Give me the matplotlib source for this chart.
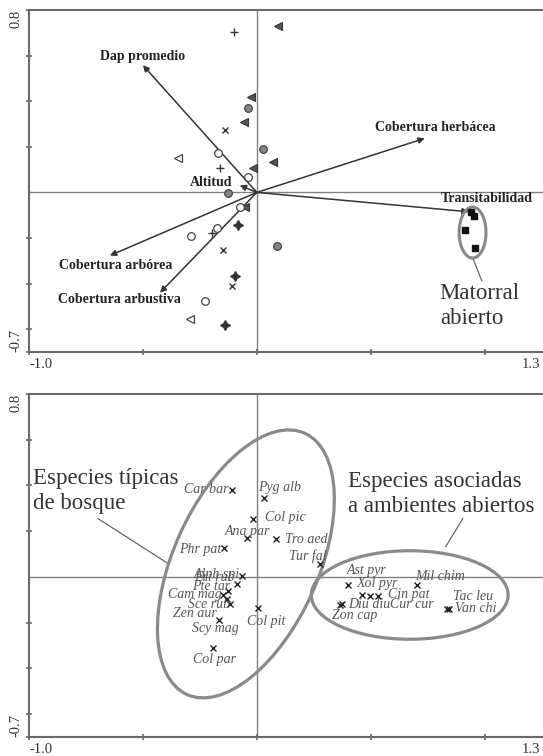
import numpy as np
import matplotlib
matplotlib.use("Agg")
import matplotlib.pyplot as plt
import matplotlib.transforms as mtransforms
from matplotlib.patches import Ellipse

''' Biplot CCA: variables do hábitat e especies '''

# --- DATOS: panel superior (variables ambientais e sitios) ---
var_nomes = ["Dap promedio", "Cobertura herbácea", "Transitabilidad", "Altitud",
             "Cobertura arbórea", "Cobertura arbustiva"]
var_x = [-0.50, 0.737, 0.93, -0.075, -0.645, -0.425]
var_y = [0.558, 0.237, -0.085, 0.031, -0.277, -0.44]

mais_x = [-0.101, -0.162, -0.197]
mais_y = [0.703, 0.105, -0.180]
trif_x = [0.092, -0.026, -0.057, 0.070, -0.018, -0.053]
trif_y = [0.730, 0.418, 0.308, 0.132, 0.105, -0.062]
circg_x = [-0.039, 0.026, -0.127, 0.088]
circg_y = [0.369, 0.189, -0.004, -0.237]
circa_x = [-0.171, -0.039, -0.075, -0.175, -0.289, -0.228]
circa_y = [0.171, 0.066, -0.066, -0.154, -0.193, -0.475]
cruz_x = [-0.140, -0.149, -0.110]
cruz_y = [0.273, -0.251, -0.409]
estr_x = [-0.083, -0.096, -0.140]
estr_y = [-0.141, -0.365, -0.580]
tria_x = [-0.346, -0.294]
tria_y = [0.149, -0.554]
cad_x = [0.939, 0.952, 0.912, 0.956]
cad_y = [-0.088, -0.105, -0.163, -0.242]

# --- DATOS: panel inferior (especies) ---
esp_nomes = ["Car bar", "Pyg alb", "Col pic", "Ana par", "Tro aed", "Tur fal",
             "Phr pat", "Alph spi", "Eri rub", "Pte tar", "Cam mag", "Sce rub",
             "Zen aur", "Scy mag", "Col par", "Col pit",
             "Ast pyr", "Xol pyr", "Cur cur", "Cin pat", "Diu diu", "Zon cap",
             "Mil chim", "Tac leu", "Van chi"]
esp_x = [-0.110, 0.031, -0.018, -0.044, 0.083, 0.276,
         -0.145, -0.066, -0.088, -0.127, -0.149, -0.132,
         -0.118, -0.167, -0.193, 0.004,
         0.399, 0.461, 0.496, 0.531, 0.373, 0.364,
         0.702, 0.833, 0.842]
esp_y = [0.382, 0.347, 0.255, 0.171, 0.167, 0.057,
         0.127, 0.004, -0.031, -0.062, -0.079, -0.097,
         -0.119, -0.189, -0.312, -0.136,
         -0.035, -0.079, -0.084, -0.084, -0.119, -0.123,
         -0.035, -0.141, -0.141]

# desprazamento das etiquetas (pixels) e aliñamento
esp_off = [(-3, 0, "right"), (-6, 10, "left"), (12, 1, "left"), (1, 6, "center"),
           (9, -1, "left"), (7, 8, "right"), (-2, -2, "right"), (-2, 2, "right"),
           (-2, 7, "right"), (2, 5, "right"), (-1, 0, "right"), (3, -5, "right"),
           (-13, -9, "right"), (-3, -8, "center"), (2, -11, "center"), (-11, -13, "left"),
           (-1, 14, "left"), (-5, 11, "left"), (20, -8, "left"), (10, 2, "left"),
           (6, 0, "left"), (-8, -10, "left"), (-2, 8, "left"), (6, 13, "left"),
           (6, 1, "left")]
var_lab_pos = [(-0.50, 0.598), (0.785, 0.286), (1.009, -0.026), (-0.202, 0.044),
               (-0.618, -0.321), (-0.601, -0.470)]

SERIF = ["Liberation Serif", "DejaVu Serif"]
plt.rcParams['font.family'] = SERIF
GRIS = "#6a6a6a"

fig = plt.figure(figsize=(5.43, 7.56), dpi=100)
ax1 = fig.add_axes([29 / 543, 404 / 756, 524 / 543, 342 / 756])
ax2 = fig.add_axes([29 / 543, 19 / 756, 524 / 543, 343 / 756])


def estilo_eixo(ax):
    ax.set_xlim(-1.0, 1.3)
    ax.set_ylim(-0.7, 0.8)
    for s in ax.spines.values():
        s.set_color(GRIS)
        s.set_linewidth(1.5)
    ax.axhline(0, color="#808080", lw=1.0, zorder=1)
    ax.axvline(0, color="#808080", lw=1.0, zorder=1)
    ax.set_xticks([-1.0, 1.3], ["-1.0", "1.3"])
    ax.set_yticks([-0.7, 0.8], ["-0.7", "0.8"])
    ax.set_xticks([-0.5, 0.0, 0.5, 1.0], minor=True)
    ax.set_yticks([-0.6, -0.4, -0.2, 0.2, 0.4, 0.6], minor=True)
    ax.tick_params(which="both", direction="inout", length=5, width=1.2,
                   color=GRIS, labelsize=10.5, labelcolor="#333333", pad=2)
    ax.tick_params(axis="y", labelrotation=90)
    xl = ax.get_xticklabels()
    xl[0].set_ha("left")
    xl[1].set_ha("right")
    # a imaxe orixinal corta o bordo dereito: achegar a etiqueta 1.3
    desp = mtransforms.ScaledTranslation(-9 / 72, 0, fig.dpi_scale_trans)
    xl[1].set_transform(xl[1].get_transform() + desp)
    yl = ax.get_yticklabels()
    yl[0].set_va("bottom")
    yl[1].set_va("top")


# 1. Panel superior
estilo_eixo(ax1)
for vx, vy in zip(var_x, var_y):
    ax1.annotate("", xy=(vx, vy), xytext=(0, 0),
                 arrowprops=dict(arrowstyle="-|>", color="#333333", lw=1.1,
                                 mutation_scale=9, shrinkA=0, shrinkB=0), zorder=3)
for nome, (lx, ly) in zip(var_nomes, var_lab_pos):
    ax1.text(lx, ly, nome, ha="center", va="center", fontsize=10,
             fontweight="bold", color="#222222", zorder=5)

ax1.plot(mais_x, mais_y, "+", color="#333333", ms=6, mew=1.0, zorder=4)
ax1.plot(trif_x, trif_y, "<", mfc="#555555", mec="#333333", ms=5.5, mew=0.8, zorder=4)
ax1.plot(circg_x, circg_y, "o", mfc="#858585", mec="#444444", ms=5.5, mew=0.9, zorder=4)
ax1.plot(circa_x, circa_y, "o", mfc="white", mec="#444444", ms=5.5, mew=0.9, zorder=4)
ax1.plot(cruz_x, cruz_y, "x", color="#333333", ms=5, mew=1.0, zorder=4)
ax1.plot(estr_x, estr_y, marker=(4, 1, 0), ls="none", color="#333333", ms=7, zorder=4)
ax1.plot(tria_x, tria_y, "<", mfc="white", mec="#444444", ms=5.5, mew=0.9, zorder=4)
ax1.plot(cad_x, cad_y, "s", color="#111111", ms=4.5, zorder=4)

ax1.add_patch(Ellipse((0.947, -0.176), 0.118, 0.224, fill=False,
                      ec="#8a8a8a", lw=2.2, zorder=3))
ax1.plot([0.947, 0.987], [-0.286, -0.387], color="#666666", lw=0.9)
ax1.text(0.803, -0.499, "Matorral\nabierto", ha="left", va="center",
         fontsize=16.5, color="#333333", linespacing=1.25)

# 2. Panel inferior
estilo_eixo(ax2)
ax2.plot(esp_x, esp_y, "x", color="#222222", ms=5, mew=1.0, zorder=4)
for nome, ex, ey, (dx, dy, ha) in zip(esp_nomes, esp_x, esp_y, esp_off):
    ax2.annotate(nome, (ex, ey), xytext=(dx, dy), textcoords="offset pixels",
                 ha=ha, va="center", fontsize=10, style="italic",
                 color="#555555", zorder=5)

ax2.add_patch(Ellipse((-0.048, 0.057), 1.254, 0.635, angle=65.6, fill=False,
                      ec="#8a8a8a", lw=2.3, zorder=3))
ax2.add_patch(Ellipse((0.671, -0.079), 0.864, 0.387, fill=False,
                      ec="#8a8a8a", lw=2.3, zorder=3))
ax2.plot([-0.697, -0.395], [0.255, 0.062], color="#666666", lw=0.9)
ax2.plot([0.904, 0.829], [0.255, 0.132], color="#666666", lw=0.9)
ax2.text(-0.982, 0.376, "Especies típicas\nde bosque", ha="left", va="center",
         fontsize=16.5, color="#333333", linespacing=1.25)
ax2.text(0.399, 0.363, "Especies asociadas\na ambientes abiertos", ha="left",
         va="center", fontsize=16.5, color="#333333", linespacing=1.25)

fig.savefig("out.png", dpi=100)
